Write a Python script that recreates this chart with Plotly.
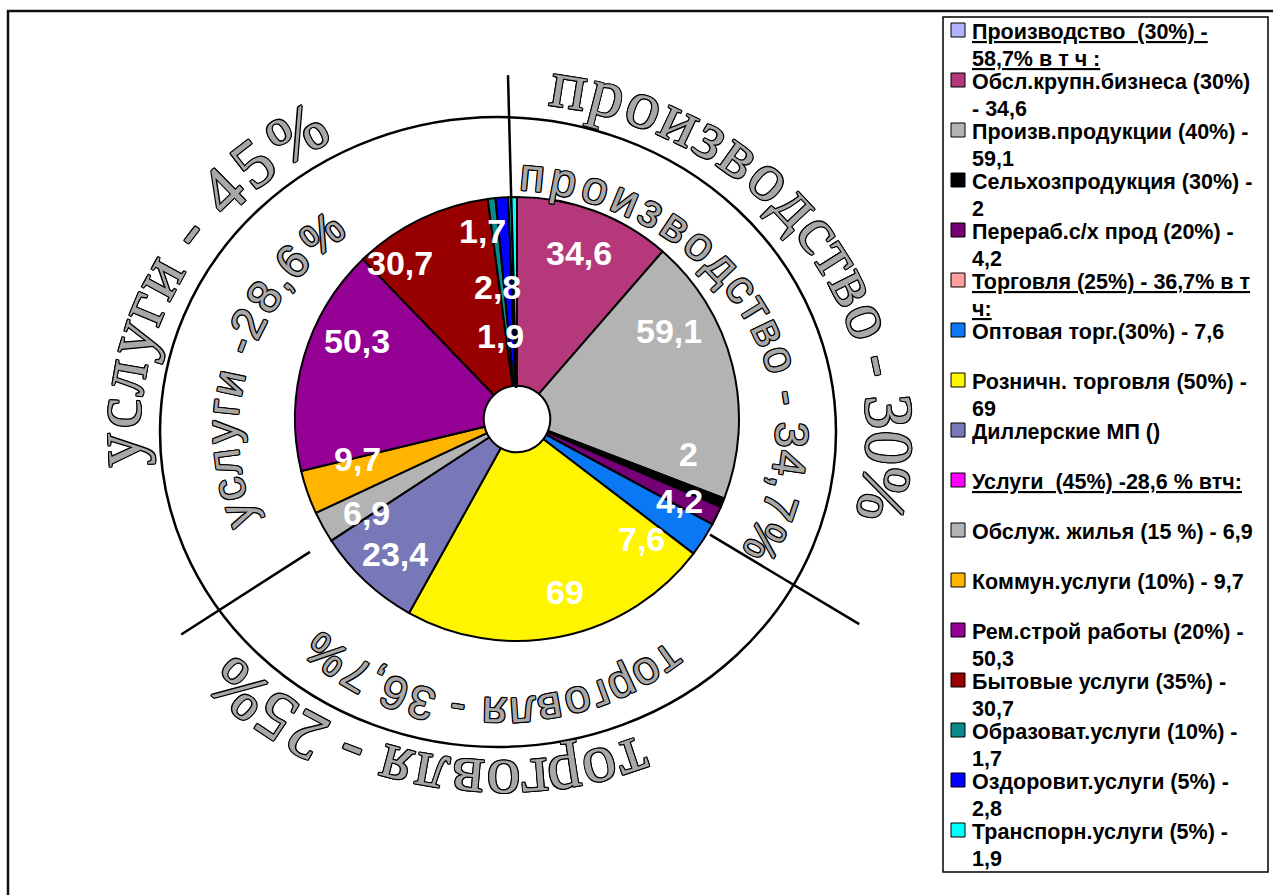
import math
import plotly.graph_objects as go

W, H = 1273, 895

# --- data ---------------------------------------------------------------
sectors = [
    "Производство (30%)", "Обсл.крупн.бизнеса", "Произв.продукции", "Сельхозпродукция",
    "Перераб.с/х прод", "Торговля (25%)", "Оптовая торг.", "Розничн. торговля",
    "Диллерские МП", "Услуги (45%)", "Обслуж. жилья", "Коммун.услуги",
    "Рем.строй работы", "Бытовые услуги", "Образоват.услуги", "Оздоровит.услуги",
    "Транспорн.услуги",
]
values = [0, 34.6, 59.1, 2, 4.2, 0, 7.6, 69, 23.4, 0, 6.9, 9.7, 50.3, 30.7, 1.7, 2.8, 1.9]
colors = [
    "#B3B3FF", "#B5397A", "#B3B3B3", "#000000", "#750075", "#FF9E9E", "#0A78F5",
    "#FFF500", "#7878B8", "#FF00FF", "#B3B3B3", "#FFB400", "#950095", "#980000",
    "#0A8A8A", "#0000FF", "#00FFFF",
]
legend_lines = [
    ["Производство  (30%) -", "58,7% в т ч :"],
    ["Обсл.крупн.бизнеса (30%)", "- 34,6"],
    ["Произв.продукции (40%) -", "59,1"],
    ["Сельхозпродукция (30%) -", "2"],
    ["Перераб.с/х прод (20%) -", "4,2"],
    ["Торговля (25%) - 36,7% в т", "ч:"],
    ["Оптовая торг.(30%) - 7,6"],
    ["Розничн. торговля (50%) -", "69"],
    ["Диллерские МП ()"],
    ["Услуги  (45%) -28,6 % втч:"],
    ["Обслуж. жилья (15 %) - 6,9"],
    ["Коммун.услуги (10%) - 9,7"],
    ["Рем.строй работы (20%) -", "50,3"],
    ["Бытовые услуги (35%) -", "30,7"],
    ["Образоват.услуги (10%) -", "1,7"],
    ["Оздоровит.услуги (5%) -", "2,8"],
    ["Транспорн.услуги (5%) -", "1,9"],
]
group_heads = [0, 5, 9]

# curved captions: outer (serif) and inner (sans)
outer_texts = ["производство - 30%", "услуги - 45%", "торговля - 25%"]
inner_texts = ["производство - 34,7%", "услуги -28,6%", "торговля - 36,7%"]
group_slices = [0, 5, 9]  # slices where the sector dividers start

# --- layout helpers -------------------------------------------------------
CX, CY, R = 517, 419, 222


def px(x):
    return x / W


def py(y):
    return 1 - y / H


# label nudges (angle offset, radius fraction) for non-zero slices
label_adjust = {
    1: (0, 0.80), 2: (-16, 0.79), 3: (-10.6, 0.79), 4: (0.8, 0.82),
    6: (11, 0.78), 7: (-3.6, 0.81), 8: (-0.7, 0.82), 10: (-3, 0.80),
    11: (5.3, 0.74), 12: (9.7, 0.80), 13: (-11.2, 0.88), 14: (-3.9, 0.86),
    15: (-4.7, 0.60), 16: (-10.5, 0.38),
}

fig = go.Figure(
    go.Pie(
        labels=sectors,
        values=values,
        sort=False,
        direction="clockwise",
        rotation=0,
        hole=0.15,
        marker=dict(colors=colors, line=dict(color="black", width=2)),
        textinfo="none",
        hoverinfo="label+value",
        showlegend=False,
        domain=dict(x=[px(CX - R), px(CX + R)], y=[py(CY + R), py(CY - R)]),
    )
)

annotations = []
shapes = []

total = sum(values)
bounds = [0]
for v in values:
    bounds.append(bounds[-1] + v / total * 360)

# value labels on slices
for i, v in enumerate(values):
    if v == 0:
        continue
    d_ang, rf = label_adjust[i]
    mid = (bounds[i] + bounds[i + 1]) / 2 + d_ang
    a = math.radians(mid)
    x = CX + rf * R * math.sin(a)
    y = CY - rf * R * math.cos(a)
    annotations.append(dict(
        x=px(x), y=py(y), xref="paper", yref="paper", showarrow=False,
        text=f"{v:g}".replace(".", ","),
        font=dict(family="Liberation Sans, Arial", size=34, color="white", weight="bold"),
        xanchor="center", yanchor="middle",
    ))

# sector dividers (angle offset, r start, r end)
divider_style = [(-1.5, 31, 344), (2.6, 225, 399), (0.5, 246, 399)]
for s, (d_ang, r0, r1) in zip(group_slices, divider_style):
    a = math.radians(bounds[s] + d_ang)
    shapes.append(dict(
        type="line", xref="paper", yref="paper",
        x0=px(CX + r0 * math.sin(a)), y0=py(CY - r0 * math.cos(a)),
        x1=px(CX + r1 * math.sin(a)), y1=py(CY - r1 * math.cos(a)),
        line=dict(color="black", width=2.5),
    ))

# outer ring
EX, EY, ERX, ERY = 498, 432, 338, 315
shapes.append(dict(
    type="circle", xref="paper", yref="paper",
    x0=px(EX - ERX), x1=px(EX + ERX), y0=py(EY + ERY), y1=py(EY - ERY),
    line=dict(color="black", width=2.5), fillcolor="rgba(0,0,0,0)",
))

# curved captions along arcs
CHAR_W = {" ": 0.28, ",": 0.28, "-": 0.34, "%": 0.86, "г": 0.38, "т": 0.46, "з": 0.45, "с": 0.48}
OUTLINE = ("1px 0 0 #000, -1px 0 0 #000, 0 1px 0 #000, 0 -1px 0 #000, "
           "1px 1px 0 #000, -1px -1px 0 #000, 1px -1px 0 #000, -1px 1px 0 #000")


def arc_text(text, cx, cy, rx, ry, t0, t1, family, size):
    pos, acc = [], 0
    for c in text:
        w = CHAR_W.get(c, 0.55)
        pos.append(acc + w / 2)
        acc += w
    span = pos[-1] - pos[0]
    for c, p in zip(text, pos):
        if c == " ":
            continue
        t = math.radians(t0 + (t1 - t0) * (p - pos[0]) / span)
        x = cx + rx * math.sin(t)
        y = cy - ry * math.cos(t)
        ang = math.degrees(math.atan2(ry * math.sin(t), rx * math.cos(t)))
        if ang > 180:
            ang -= 360
        annotations.append(dict(
            x=px(x), y=py(y), xref="paper", yref="paper", showarrow=False,
            text=c, textangle=ang, xanchor="center", yanchor="middle",
            font=dict(family=family, size=size, color="#A8A8A8", shadow=OUTLINE),
        ))


SERIF = "Liberation Serif, Times New Roman, serif"
SANS = "Liberation Sans, Arial, sans-serif"
outer_arcs = [(502, 432, 388, 352, 10, 100), (502, 432, 385, 352, 267, 328), (502, 432, 385, 352, 160, 223)]
inner_arcs = [(502, 432, 290, 258, 6, 115), (502, 432, 280, 258, 251, 320), (502, 432, 285, 282, 144, 218)]
for txt, (cx, cy, rx, ry, t0, t1) in zip(outer_texts, outer_arcs):
    arc_text(txt, cx, cy, rx, ry, t0, t1, SERIF, 68)
for txt, (cx, cy, rx, ry, t0, t1) in zip(inner_texts, inner_arcs):
    arc_text(txt, cx, cy, rx, ry, t0, t1, SANS, 46)

# legend (drawn by hand to match the wrapped Excel legend)
LX0, LY0, LX1, LY1 = 943, 17, 1268, 872
shapes.append(dict(
    type="rect", xref="paper", yref="paper",
    x0=px(LX0), x1=px(LX1), y0=py(LY1), y1=py(LY0),
    line=dict(color="black", width=1.5), fillcolor="white", layer="below",
))
LFS = 21.5
for i, (lines, col) in enumerate(zip(legend_lines, colors)):
    base = 39 + 50 * i
    shapes.append(dict(
        type="rect", xref="paper", yref="paper",
        x0=px(951), x1=px(965), y0=py(base - 2), y1=py(base - 16),
        line=dict(color="black", width=1), fillcolor=col,
    ))
    for k, line in enumerate(lines):
        txt = f"<u>{line}</u>" if i in group_heads else line
        annotations.append(dict(
            x=px(970), y=py(base + 27 * k - 7), xref="paper", yref="paper",
            showarrow=False, text=txt, xanchor="left", yanchor="middle",
            font=dict(family=SANS, size=LFS, color="black", weight="bold"),
        ))

# outer frame
shapes.append(dict(
    type="rect", xref="paper", yref="paper",
    x0=px(8), x1=px(1300), y0=py(920), y1=py(11),
    line=dict(color="#111111", width=2.5), fillcolor="rgba(0,0,0,0)",
))

fig.update_layout(
    width=W, height=H,
    margin=dict(l=0, r=0, t=0, b=0),
    paper_bgcolor="white", plot_bgcolor="white",
    shapes=shapes, annotations=annotations,
)

fig.write_html(
    "out.html",
    config={"displayModeBar": False},
    post_script="document.body.style.margin='0';document.body.style.overflow='hidden';",
)
